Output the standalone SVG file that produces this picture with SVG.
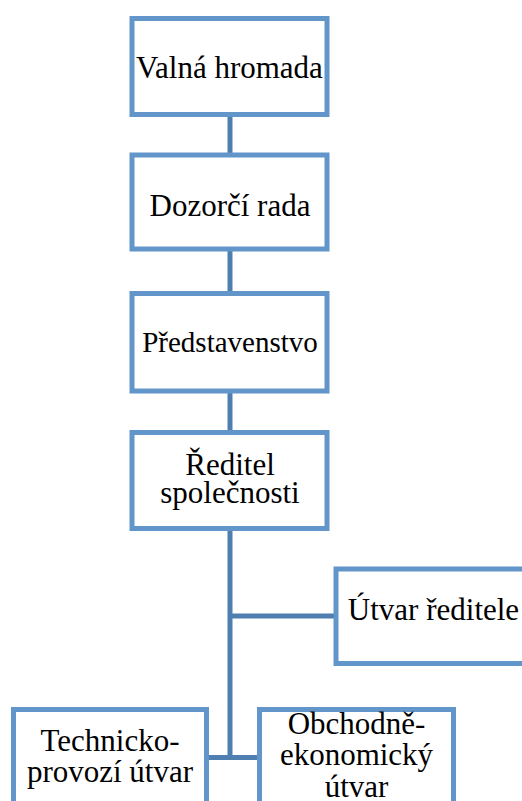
<svg xmlns="http://www.w3.org/2000/svg" width="522" height="801" viewBox="0 0 522 801">
<style>
.box{fill:#ffffff;stroke:#6296ca;stroke-width:5}
.conn{stroke:#4f7fb0;stroke-width:5;fill:none}
.t{font-family:'Liberation Serif','DejaVu Serif',serif;font-size:31px;fill:#000000;text-anchor:middle}
</style>
<rect width="522" height="801" fill="#ffffff"/>
<g id="connectors">
<line class="conn" x1="230" y1="116" x2="230" y2="155"/>
<line class="conn" x1="230" y1="249" x2="230" y2="293"/>
<line class="conn" x1="230" y1="391" x2="230" y2="432"/>
<line class="conn" x1="230" y1="528" x2="230" y2="760"/>
<line class="conn" x1="230" y1="616" x2="336" y2="616"/>
<line class="conn" x1="206" y1="757.5" x2="260" y2="757.5"/>
</g>
<g id="valna-hromada">
<rect class="box" x="132" y="18.5" width="195" height="96"/>
<text class="t" x="229.5" y="78" font-size="31.5">Valná hromada</text>
</g>
<g id="dozorci-rada">
<rect class="box" x="132" y="155" width="195" height="94"/>
<text class="t" x="230" y="215.5">Dozorčí rada</text>
</g>
<g id="predstavenstvo">
<rect class="box" x="132" y="293.5" width="195" height="97.5"/>
<text class="t" x="230" y="351.5" style="font-size:29px">Představenstvo</text>
</g>
<g id="reditel">
<rect class="box" x="132" y="432.5" width="195" height="96"/>
<text class="t" x="230" y="475">Ředitel</text>
<text class="t" x="230" y="503">společnosti</text>
</g>
<g id="utvar-reditele">
<rect class="box" x="336" y="569" width="195" height="94.5"/>
<text class="t" x="433.5" y="620">Útvar ředitele</text>
</g>
<g id="technicko-provozni">
<rect class="box" x="13.5" y="709.5" width="193" height="110"/>
<text class="t" x="110" y="751">Technicko-</text>
<text class="t" x="110" y="781.5">provozí útvar</text>
</g>
<g id="obchodne-ekonomicky">
<rect class="box" x="259.5" y="709.5" width="194" height="110"/>
<text class="t" x="356.5" y="733.5">Obchodně-</text>
<text class="t" x="356.5" y="765">ekonomický</text>
<text class="t" x="356.5" y="797">útvar</text>
</g>
</svg>
